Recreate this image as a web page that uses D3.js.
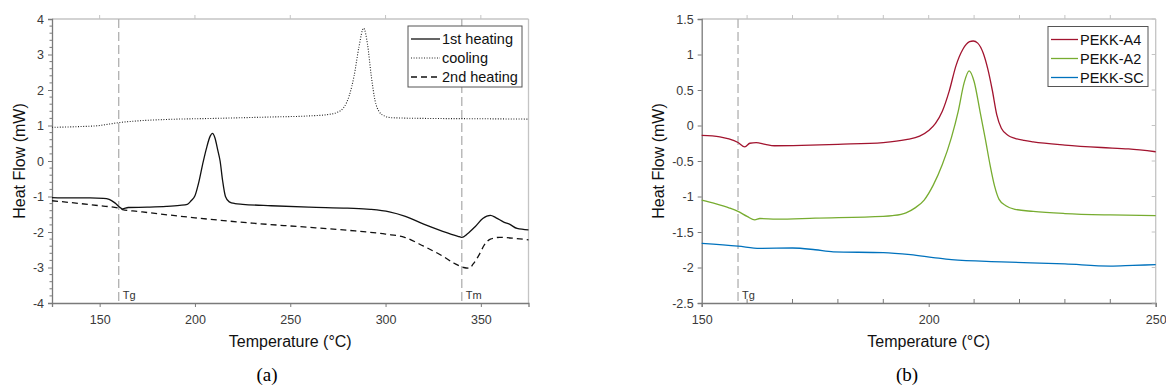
<!DOCTYPE html>
<html><head><meta charset="utf-8">
<script src="https://cdnjs.cloudflare.com/ajax/libs/d3/7.8.5/d3.min.js"></script>
<style>
html,body{margin:0;padding:0;background:#fff;}
svg{display:block;font-family:"Liberation Sans",Arial,sans-serif;}
</style></head>
<body><svg id="c" width="1166" height="389"></svg>
<script>
// ---------- Panel (a) data ----------
const heat1T = [125,135,145,152,155,158,161,162,165,175,185,192,196,198,200,202,204,206,208,209.2,210.5,212,213.2,214.5,216,218,221,225,240,260,280,292,302,310,320,330,338,340,343,347,351,355,358,362,365,369,375];
const heat1V = [-1.03,-1.04,-1.04,-1.05,-1.08,-1.18,-1.32,-1.35,-1.31,-1.30,-1.28,-1.25,-1.22,-1.12,-0.98,-0.6,-0.1,0.35,0.7,0.78,0.65,0.3,0,-0.55,-1.0,-1.15,-1.2,-1.22,-1.26,-1.30,-1.33,-1.36,-1.43,-1.55,-1.78,-1.98,-2.12,-2.15,-2.05,-1.85,-1.62,-1.53,-1.6,-1.72,-1.78,-1.9,-1.94];
const coolT = [125,140,150,155,160,170,185,210,240,260,270,275,278,281,283.5,286,288.5,290.5,292.5,294.5,296.5,299,303,320,350,375];
const coolV = [0.95,0.97,1.0,1.04,1.08,1.13,1.17,1.2,1.24,1.27,1.31,1.38,1.5,1.85,2.4,3.2,3.74,3.3,2.4,1.7,1.4,1.28,1.22,1.2,1.19,1.18];
const heat2T = [125,140,150,160,162,170,200,230,255,280,300,310,320,330,336,341,344,346,349,352,355,360,368,375];
const heat2V = [-1.12,-1.2,-1.26,-1.33,-1.37,-1.42,-1.6,-1.75,-1.85,-1.95,-2.06,-2.15,-2.4,-2.68,-2.88,-3.0,-3.02,-2.9,-2.65,-2.35,-2.2,-2.15,-2.18,-2.22];
const legendA = ["1st heating","cooling","2nd heating"];
const xTicksA = [150,200,250,300,350];
const yTicksA = [-4,-3,-2,-1,0,1,2,3,4];
const markersA = [{t:160,label:"Tg"},{t:340,label:"Tm"}];

// ---------- Panel (b) data ----------
const a4T = [150,154,156,158,159.5,160.6,162,164,166,172,180,190,195,198,200,201.5,203,204.5,206,207.5,209,209.8,210.8,212,213,214,215,216,217.5,219,221,223,230,238,244,250];
const a4V = [-0.14,-0.16,-0.19,-0.24,-0.30,-0.25,-0.24,-0.265,-0.285,-0.28,-0.265,-0.24,-0.2,-0.15,-0.07,0.03,0.2,0.48,0.84,1.07,1.18,1.19,1.16,1.02,0.8,0.5,0.15,-0.04,-0.14,-0.18,-0.21,-0.23,-0.275,-0.31,-0.33,-0.37];
const a2T = [150,153,156,158,160,161.7,162.8,166.5,175,190,192,195,197,199,201,203,205,206.5,207.8,208.9,210,211.3,212.5,213.5,214.5,215.5,217,219,223,230,240,250];
const a2V = [-1.05,-1.1,-1.16,-1.21,-1.28,-1.33,-1.31,-1.32,-1.305,-1.28,-1.27,-1.23,-1.16,-1.05,-0.84,-0.55,-0.17,0.2,0.6,0.77,0.62,0.2,-0.2,-0.55,-0.85,-1.04,-1.13,-1.18,-1.21,-1.24,-1.26,-1.27];
const scT = [150,158,162.8,170,175,179,190,196,201,205,216,230,240,245,250];
const scV = [-1.66,-1.70,-1.73,-1.725,-1.75,-1.78,-1.79,-1.82,-1.86,-1.89,-1.92,-1.95,-1.98,-1.97,-1.96];
const legendB = ["PEKK-A4","PEKK-A2","PEKK-SC"];
const colorsB = ["#a2142f","#77ac30","#0072bd"];
const xTicksB = [150,200,250];
const xMinorB = [160,170,180,190,210,220,230,240];
const yTicksB = [-2.5,-2,-1.5,-1,-0.5,0,0.5,1,1.5];
const markersB = [{t:158,label:"Tg"}];

const svg = d3.select("#c");
const zip = (T,V)=>T.map((t,i)=>({t,v:V[i]}));
const AX = "#7a7a7a", FR = "#c4c4c4", TXT = "#3a3a3a";

function panel(o){
  const g = svg.append("g");
  const x = d3.scaleLinear().domain(o.xd).range([o.L,o.R]);
  const y = d3.scaleLinear().domain(o.yd).range([o.B,o.T]);
  g.append("line").attr("x1",o.L).attr("x2",o.R).attr("y1",o.T).attr("y2",o.T).attr("stroke",FR).attr("stroke-width",1.3);
  g.append("line").attr("x1",o.R).attr("x2",o.R).attr("y1",o.T).attr("y2",o.B).attr("stroke",FR).attr("stroke-width",1.3);
  const xb = g.append("g").attr("transform",`translate(0,${o.B})`)
    .call(d3.axisBottom(x).tickValues(o.xt).tickSize(4).tickPadding(8).tickFormat(d3.format("d")));
  xb.select(".domain").attr("stroke",AX).attr("stroke-width",1.3);
  xb.selectAll(".tick line").attr("stroke",AX);
  xb.selectAll("text").attr("fill",TXT).style("font-size","12.5px").style("font-family","Liberation Sans, Arial");
  const topT = o.topTicks || o.xt;
  g.selectAll(null).data(topT).enter().append("line")
    .attr("x1",d=>x(d)).attr("x2",d=>x(d)).attr("y1",o.T).attr("y2",o.T-4).attr("stroke",FR);
  if(o.xMinor){
    g.selectAll(null).data(o.xMinor).enter().append("line")
      .attr("x1",d=>x(d)).attr("x2",d=>x(d)).attr("y1",o.B).attr("y2",o.B-4).attr("stroke",AX);
  }
  const yl = g.append("g").attr("transform",`translate(${o.L},0)`)
    .call(d3.axisLeft(y).tickValues(o.yt).tickSize(4).tickPadding(4).tickFormat(d=>String(d)));
  yl.select(".domain").attr("stroke",AX).attr("stroke-width",1.3);
  yl.selectAll(".tick line").attr("stroke",AX);
  yl.selectAll("text").attr("fill",TXT).style("font-size","12.5px").style("font-family","Liberation Sans, Arial");
  if(o.yMinor){
    g.selectAll(null).data(o.yMinor).enter().append("line")
      .attr("x1",o.L).attr("x2",o.L-2.5).attr("y1",d=>y(d)).attr("y2",d=>y(d)).attr("stroke",AX);
  }
  if(o.rightTicks){
    g.selectAll(null).data(o.yt).enter().append("line")
      .attr("x1",o.R).attr("x2",o.R-4).attr("y1",d=>y(d)).attr("y2",d=>y(d)).attr("stroke",FR);
  }
  o.markers.forEach(m=>{
    g.append("line").attr("x1",x(m.t)).attr("x2",x(m.t)).attr("y1",o.T).attr("y2",o.B)
      .attr("stroke","#b0b0b0").attr("stroke-width",1.3).attr("stroke-dasharray","9,4");
    g.append("text").attr("x",x(m.t)+4).attr("y",o.B-4).text(m.label)
      .attr("fill","#333").style("font-size","11px");
  });
  const line = d3.line().x(d=>x(d.t)).y(d=>y(d.v)).curve(d3.curveMonotoneX);
  o.series.forEach(s=>{
    g.append("path").datum(s.data).attr("d",line).attr("fill","none")
      .attr("stroke",s.color).attr("stroke-width",s.w||1.3).attr("stroke-dasharray",s.dash||null);
  });
  const lg = o.legend;
  g.append("rect").attr("x",lg.x).attr("y",lg.y).attr("width",lg.w).attr("height",lg.h)
    .attr("fill","#fff").attr("stroke","#555").attr("stroke-width",1);
  o.series.forEach((s,i)=>{
    const yy = lg.y + 13 + i*19;
    g.append("line").attr("x1",lg.x+lg.l0).attr("x2",lg.x+lg.l1).attr("y1",yy).attr("y2",yy)
      .attr("stroke",s.color).attr("stroke-width",s.w||1.3).attr("stroke-dasharray",s.dash||null);
    g.append("text").attr("x",lg.x+lg.l1+2).attr("y",yy+5).text(s.name)
      .attr("fill","#111").style("font-size","14.5px");
  });
  g.append("text").attr("x",(o.L+o.R)/2).attr("y",347).attr("text-anchor","middle")
    .text("Temperature (°C)").attr("fill","#111").style("font-size","16px");
  g.append("text").attr("transform",`translate(${o.yLabX},${(o.T+o.B)/2}) rotate(-90)`)
    .attr("text-anchor","middle").text("Heat Flow (mW)").attr("fill","#111").style("font-size","16px");
  g.append("text").attr("x",o.capX).attr("y",381).attr("text-anchor","middle").text(o.cap)
    .attr("fill","#000").style("font-size","19px").style("font-family","Liberation Serif, Times New Roman, serif");
}

const yMinorA = d3.range(-4,4.001,0.2).map(v=>+v.toFixed(1)).filter(v=>Math.abs(v-Math.round(v))>1e-6);

panel({
  L:52, R:528.5, T:19, B:303, xd:[125,375], yd:[-4,4],
  xt:xTicksA, yt:yTicksA, yMinor:yMinorA,
  markers:markersA, yLabX:25, capX:267, cap:"(a)",
  series:[
    {name:legendA[0], data:zip(heat1T,heat1V), color:"#111", w:1.3},
    {name:legendA[1], data:zip(coolT,coolV), color:"#222", w:1.1, dash:"1,1.6"},
    {name:legendA[2], data:zip(heat2T,heat2V), color:"#111", w:1.3, dash:"6,4"}
  ],
  legend:{x:408, y:26, w:114, h:61, l0:3, l1:32}
});

panel({
  L:701.7, R:1155.7, T:19, B:303, xd:[150,250], yd:[-2.5,1.5],
  xt:xTicksB, yt:yTicksB, xMinor:xMinorB, topTicks:xMinorB.concat([200]), rightTicks:true,
  markers:markersB, yLabX:664, capX:907, cap:"(b)",
  series:[
    {name:legendB[0], data:zip(a4T,a4V), color:colorsB[0], w:1.3},
    {name:legendB[1], data:zip(a2T,a2V), color:colorsB[1], w:1.3},
    {name:legendB[2], data:zip(scT,scV), color:colorsB[2], w:1.3}
  ],
  legend:{x:1048, y:26.5, w:100, h:60, l0:3, l1:30}
});
</script></body></html>
